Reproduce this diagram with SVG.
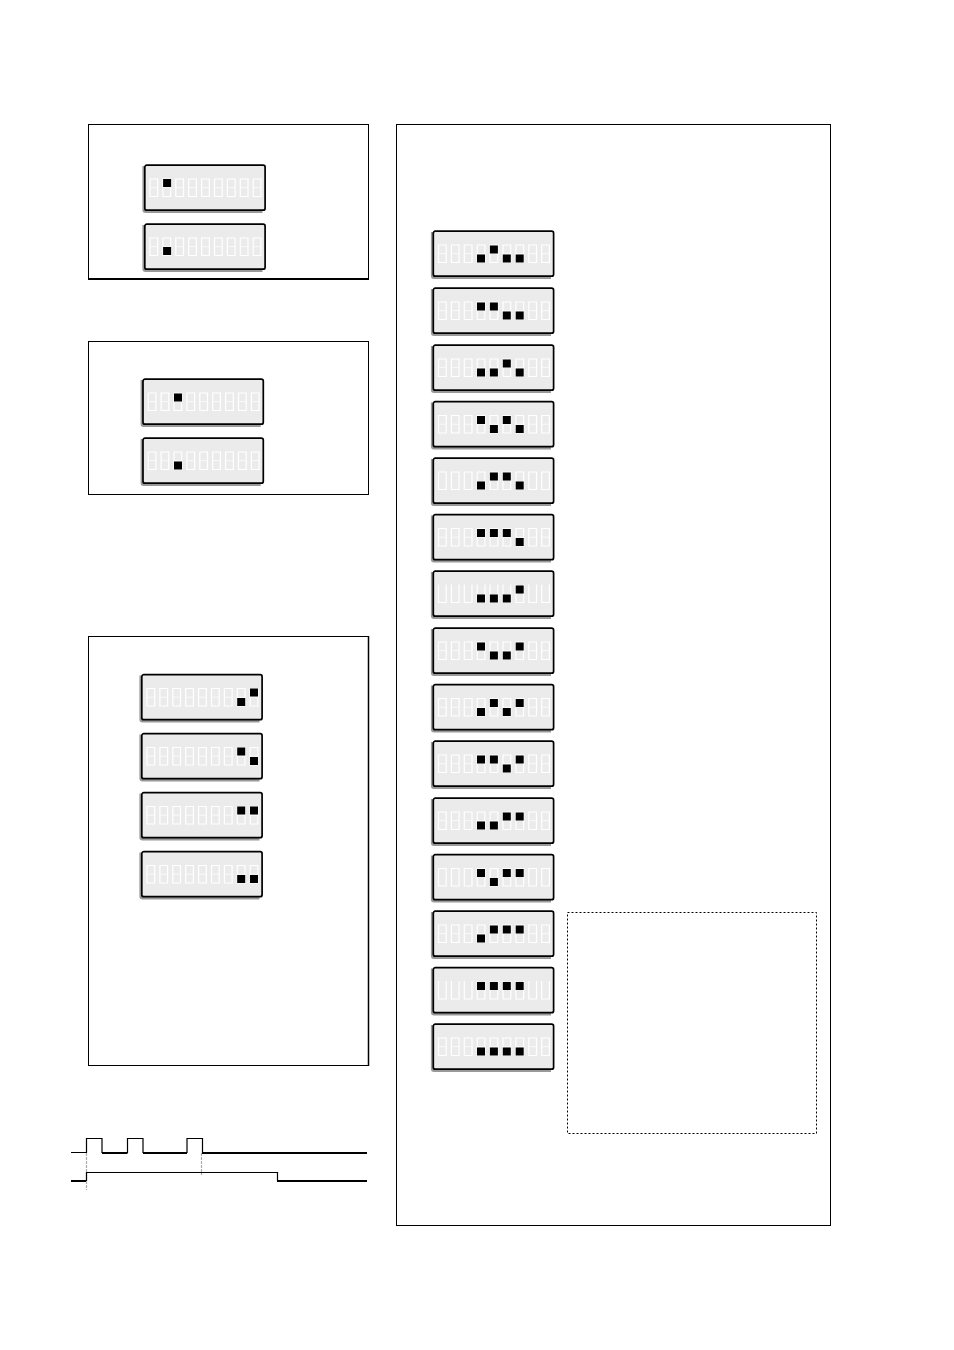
<svg xmlns="http://www.w3.org/2000/svg" width="954" height="1350" viewBox="0 0 954 1350">
<style>
.p{fill:#fff;stroke:#000;stroke-width:1}
.sh{fill:none;stroke:#808080;stroke-width:2.6;opacity:.8}
.b{fill:#ebebeb;stroke:#000;stroke-width:1.7}
.d{fill:none;stroke:#fff;stroke-width:1.2}
.m{fill:none;stroke:#fff;stroke-width:1;opacity:.75}
.s{fill:#000}
.w{fill:none;stroke:#000}
</style>
<defs>
<g id="box"><path class="sh" d="M-0.8 1V45Q-0.8 46.6 1 46.6H118"/><rect class="b" x="0.3" y="0.2" width="120.3" height="45" rx="2"/></g>
<g id="dg"><path class="d" d="M0.5 0.5H8.2V18H0.5Z"/><path class="m" d="M0.5 9.2H8.2"/></g>
<g id="d0"><path class="d" d="M0.5 0.5H8.2V18H0.5Z"/></g>
<g id="dU"><path class="d" d="M0.5 0V18H8.2V0"/></g>
<g id="row"><use href="#dg" x="5"/><use href="#dg" x="17.9"/><use href="#dg" x="30.8"/><use href="#dg" x="43.7"/><use href="#dg" x="56.6"/><use href="#dg" x="69.5"/><use href="#dg" x="82.4"/><use href="#dg" x="95.3"/><use href="#dg" x="108.2"/></g>
<g id="row0"><use href="#d0" x="5"/><use href="#d0" x="17.9"/><use href="#d0" x="30.8"/><use href="#d0" x="43.7"/><use href="#d0" x="56.6"/><use href="#d0" x="69.5"/><use href="#d0" x="82.4"/><use href="#d0" x="95.3"/><use href="#d0" x="108.2"/></g>
<g id="rowU"><use href="#dU" x="5"/><use href="#dU" x="17.9"/><use href="#dU" x="30.8"/><use href="#dU" x="43.7"/><use href="#dU" x="56.6"/><use href="#dU" x="69.5"/><use href="#dU" x="82.4"/><use href="#dU" x="95.3"/><use href="#dU" x="108.2"/></g>
<rect id="t" class="s" width="8" height="8"/>
</defs>
<rect width="954" height="1350" fill="#fff"/>
<g id="panel-a"><rect class="p" x="88.5" y="124.5" width="280" height="154.5"/><path class="w" stroke-width="2" d="M88 279H369"/></g>
<g id="panel-b"><rect class="p" x="88.5" y="341.5" width="280" height="153"/></g>
<g id="panel-c"><rect class="p" x="88.5" y="636.5" width="280" height="429"/><path class="w" stroke-width="1.5" d="M368.5 636V1066"/></g>
<g id="panel-d"><rect class="p" x="396.5" y="124.5" width="434" height="1101"/></g>
<g id="note"><rect x="567.5" y="912.5" width="249" height="221" fill="none" stroke="#000" stroke-width="1" stroke-dasharray="2 2"/></g>
<g id="a1" transform="translate(144.5 165)"><use href="#box"/><use href="#row" y="13.5"/><use href="#t" x="18.6" y="14"/></g>
<g id="a2" transform="translate(144.5 224)"><use href="#box"/><use href="#row" y="13.5"/><use href="#t" x="18.6" y="23"/></g>
<g id="b1" transform="translate(142.7 379)"><use href="#box"/><use href="#row" y="13.5"/><use href="#t" x="31.3" y="14.5"/></g>
<g id="b2" transform="translate(142.7 438)"><use href="#box"/><use href="#row" y="13.5"/><use href="#t" x="31.3" y="23.5"/></g>
<g id="c1" transform="translate(141.5 674.5)"><use href="#box"/><use href="#row" y="13.5"/><use href="#t" x="95.7" y="23.5"/><use href="#t" x="108.5" y="14"/></g>
<g id="c2" transform="translate(141.5 733.5)"><use href="#box"/><use href="#row" y="13.5"/><use href="#t" x="95.7" y="14"/><use href="#t" x="108.5" y="23.5"/></g>
<g id="c3" transform="translate(141.5 792.5)"><use href="#box"/><use href="#row" y="13.5"/><use href="#t" x="95.7" y="14"/><use href="#t" x="108.5" y="14"/></g>
<g id="c4" transform="translate(141.5 851.5)"><use href="#box"/><use href="#row" y="13.5"/><use href="#t" x="95.7" y="23.5"/><use href="#t" x="108.5" y="23.5"/></g>
<g id="d1" transform="translate(433 231)"><use href="#box"/><use href="#row" y="13.5"/><use href="#t" x="44" y="23.5"/><use href="#t" x="56.9" y="14.5"/><use href="#t" x="69.8" y="23.5"/><use href="#t" x="82.7" y="23.5"/></g>
<g id="d2" transform="translate(433 288)"><use href="#box"/><use href="#row" y="13.5"/><use href="#t" x="44" y="14.5"/><use href="#t" x="56.9" y="14.5"/><use href="#t" x="69.8" y="23.5"/><use href="#t" x="82.7" y="23.5"/></g>
<g id="d3" transform="translate(433 345)"><use href="#box"/><use href="#row" y="13.5"/><use href="#t" x="44" y="23.5"/><use href="#t" x="56.9" y="23.5"/><use href="#t" x="69.8" y="14.5"/><use href="#t" x="82.7" y="23.5"/></g>
<g id="d4" transform="translate(433 401.5)"><use href="#box"/><use href="#row" y="13.5"/><use href="#t" x="44" y="14.5"/><use href="#t" x="56.9" y="23.5"/><use href="#t" x="69.8" y="14.5"/><use href="#t" x="82.7" y="23.5"/></g>
<g id="d5" transform="translate(433 458)"><use href="#box"/><use href="#row0" y="13.5"/><use href="#t" x="44" y="23.5"/><use href="#t" x="56.9" y="14.5"/><use href="#t" x="69.8" y="14.5"/><use href="#t" x="82.7" y="23.5"/></g>
<g id="d6" transform="translate(433 514.5)"><use href="#box"/><use href="#row" y="13.5"/><use href="#t" x="44" y="14.5"/><use href="#t" x="56.9" y="14.5"/><use href="#t" x="69.8" y="14.5"/><use href="#t" x="82.7" y="23.5"/></g>
<g id="d7" transform="translate(433 571)"><use href="#box"/><use href="#rowU" y="13.5"/><use href="#t" x="44" y="23.5"/><use href="#t" x="56.9" y="23.5"/><use href="#t" x="69.8" y="23.5"/><use href="#t" x="82.7" y="14.5"/></g>
<g id="d8" transform="translate(433 628)"><use href="#box"/><use href="#row" y="13.5"/><use href="#t" x="44" y="14.5"/><use href="#t" x="56.9" y="23.5"/><use href="#t" x="69.8" y="23.5"/><use href="#t" x="82.7" y="14.5"/></g>
<g id="d9" transform="translate(433 684.5)"><use href="#box"/><use href="#row" y="13.5"/><use href="#t" x="44" y="23.5"/><use href="#t" x="56.9" y="14.5"/><use href="#t" x="69.8" y="23.5"/><use href="#t" x="82.7" y="14.5"/></g>
<g id="d10" transform="translate(433 741)"><use href="#box"/><use href="#row" y="13.5"/><use href="#t" x="44" y="14.5"/><use href="#t" x="56.9" y="14.5"/><use href="#t" x="69.8" y="23.5"/><use href="#t" x="82.7" y="14.5"/></g>
<g id="d11" transform="translate(433 798)"><use href="#box"/><use href="#row" y="13.5"/><use href="#t" x="44" y="23.5"/><use href="#t" x="56.9" y="23.5"/><use href="#t" x="69.8" y="14.5"/><use href="#t" x="82.7" y="14.5"/></g>
<g id="d12" transform="translate(433 854.5)"><use href="#box"/><use href="#row0" y="13.5"/><use href="#t" x="44" y="14.5"/><use href="#t" x="56.9" y="23.5"/><use href="#t" x="69.8" y="14.5"/><use href="#t" x="82.7" y="14.5"/></g>
<g id="d13" transform="translate(433 911)"><use href="#box"/><use href="#row" y="13.5"/><use href="#t" x="44" y="23.5"/><use href="#t" x="56.9" y="14.5"/><use href="#t" x="69.8" y="14.5"/><use href="#t" x="82.7" y="14.5"/></g>
<g id="d14" transform="translate(433 967.5)"><use href="#box"/><use href="#rowU" y="13.5"/><use href="#t" x="44" y="14.5"/><use href="#t" x="56.9" y="14.5"/><use href="#t" x="69.8" y="14.5"/><use href="#t" x="82.7" y="14.5"/></g>
<g id="d15" transform="translate(433 1024)"><use href="#box"/><use href="#row" y="13.5"/><use href="#t" x="44" y="23.5"/><use href="#t" x="56.9" y="23.5"/><use href="#t" x="69.8" y="23.5"/><use href="#t" x="82.7" y="23.5"/></g>
<g id="connectors">
<path fill="none" stroke="#aaa" stroke-width="1.2" stroke-dasharray="3 1" d="M86.5 1153V1190M201.5 1153V1175"/>
<path class="w" stroke-width="1.2" d="M71 1152.5H86.5V1138.5H102V1153M127.5 1153V1138.5H143V1153M187 1153V1138.5H202.5V1153M86.5 1181V1172.5H277.5V1181"/>
<path class="w" stroke-width="2" d="M102 1153H127.5M143 1153H187M202 1153H367M71 1181H86M277 1181H367"/>
</g>
</svg>
